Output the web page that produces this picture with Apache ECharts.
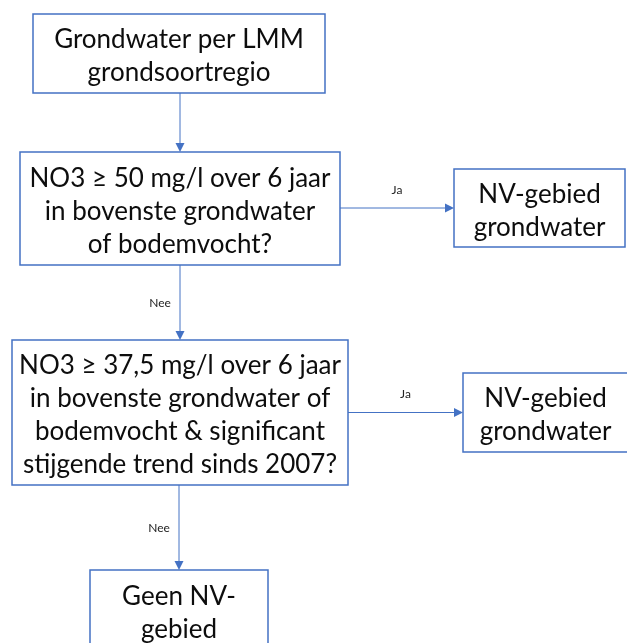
<!DOCTYPE html>
<html>
<head>
<meta charset="UTF-8">
<title>Grondwater NV-gebied</title>
<script type="text/javascript" src="https://cdn.jsdelivr.net/npm/echarts@6/dist/echarts.min.js"></script>
<style>
	html,body{margin:0;padding:0;background:#fff;}
</style>
</head>
<body>
	<div id="show" style="width:627px;height:643px"></div>
	<script type="text/javascript">
		// boxes of the flowchart
		var boxText=[
			'Grondwater per LMM\ngrondsoortregio',
			'NO3 ≥ 50 mg/l over 6 jaar\nin bovenste grondwater\nof bodemvocht?',
			'NV-gebied\ngrondwater',
			'NO3 ≥ 37,5 mg/l over 6 jaar\nin bovenste grondwater of\nbodemvocht & significant\nstijgende trend sinds 2007?',
			'NV-gebied\ngrondwater',
			'Geen NV-\ngebied'
		];
		var boxLeft=[33,20,454,12,463,90];
		var boxRight=[325,340,625,348,628,268];
		var boxTop=[14,152,169,340,373,570];
		var boxBottom=[93,265,247,485,452,650];
		// arrows
		var edgeFrom=[0,1,1,3,3];
		var edgeTo=[1,2,3,4,5];
		var edgeText=['','Ja','Nee','Ja','Nee'];

		var blue='#4472C4';
		var font='Lato, "Noto Sans", sans-serif';

		var boxData=[];
		for(var i=0;i<boxText.length;i++){
			boxData.push([boxLeft[i],boxTop[i],boxRight[i],boxBottom[i],boxText[i]]);
		}
		var edgeData=[];
		for(var i=0;i<edgeFrom.length;i++){
			var a=edgeFrom[i],b=edgeTo[i];
			if(boxLeft[b]>boxRight[a]){
				//horizontal, at the middle of the target box
				var y=(boxTop[b]+boxBottom[b])/2;
				edgeData.push([boxRight[a],y,boxLeft[b],y,edgeText[i],'h']);
			}else{
				var x=(boxLeft[b]+boxRight[b])/2;
				edgeData.push([x,boxBottom[a],x,boxTop[b],edgeText[i],'v']);
			}
		}

		var myCharts=echarts.init(document.getElementById('show'));
		myCharts.setOption({
			animation:false,
			grid:{left:0,right:0,top:0,bottom:0},
			xAxis:{type:'value',min:0,max:627,show:false},
			yAxis:{type:'value',min:0,max:643,inverse:true,show:false},
			series:[{
				type:'custom',
				name:'boxes',
				data:boxData,
				clip:true,
				renderItem:function(params,api){
					var p0=api.coord([api.value(0),api.value(1)]);
					var p1=api.coord([api.value(2),api.value(3)]);
					var txt=boxData[params.dataIndex][4];
					return {
						type:'group',
						children:[{
							type:'rect',
							shape:{x:p0[0],y:p0[1],width:p1[0]-p0[0],height:p1[1]-p0[1]},
							style:{fill:'#fff',stroke:blue,lineWidth:1.5}
						},{
							type:'text',
							x:(p0[0]+p1[0])/2,
							y:(p0[1]+p1[1])/2+3,
							style:{
								text:txt,
								fill:'#0d0d0d',
								font:'26px '+font,
								lineHeight:33,
								align:'center',
								verticalAlign:'middle'
							}
						}]
					};
				}
			},{
				type:'custom',
				name:'arrows',
				data:edgeData,
				renderItem:function(params,api){
					var d=edgeData[params.dataIndex];
					var p0=api.coord([d[0],d[1]]);
					var p1=api.coord([d[2],d[3]]);
					var s=4.5,L=9,head,lab;
					if(d[5]=='h'){
						head=[[p1[0],p1[1]],[p1[0]-L,p1[1]-s],[p1[0]-L,p1[1]+s]];
						lab={x:(p0[0]+p1[0])/2,y:p0[1]-18};
					}else{
						head=[[p1[0],p1[1]],[p1[0]-s,p1[1]-L],[p1[0]+s,p1[1]-L]];
						lab={x:p0[0]-20,y:(p0[1]+p1[1])/2+1};
					}
					var ch=[{
						type:'line',
						shape:{x1:p0[0],y1:p0[1],x2:p1[0],y2:p1[1]-L+1},
						style:{stroke:blue,lineWidth:1}
					},{
						type:'polygon',
						shape:{points:head},
						style:{fill:blue}
					}];
					if(d[5]=='h'){
						ch[0].shape.x2=p1[0]-L+1;
						ch[0].shape.y2=p1[1];
					}
					if(d[4]){
						ch.push({
							type:'text',
							x:lab.x,
							y:lab.y,
							style:{text:d[4],fill:'#222',font:'12px '+font,align:'center',verticalAlign:'middle'}
						});
					}
					return {type:'group',children:ch};
				}
			}]
		});
	</script>
</body>
</html>
